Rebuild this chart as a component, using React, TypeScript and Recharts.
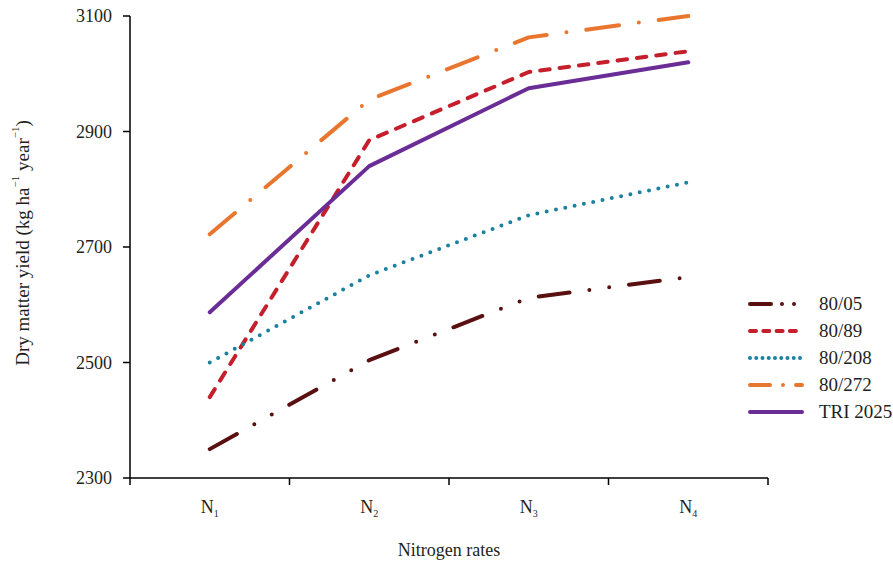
import React from 'react';
import { LineChart, Line, XAxis, YAxis, Legend, Label } from 'recharts';

// Nitrogen rate categories (subscript index of N)
const categories = ['1', '2', '3', '4'];

// Series values (kg ha-1 year-1)
const s8005 = [2350, 2504, 2612, 2648];
const s8089 = [2440, 2885, 3003, 3039];
const s80208 = [2500, 2651, 2755, 2812];
const s80272 = [2722, 2955, 3063, 3100];
const sTRI2025 = [2587, 2840, 2975, 3020];

// Axis ticks
const yTicks = [2300, 2500, 2700, 2900, 3100];

const FONT = "'Liberation Serif', serif";
const TEXT = '#231f20';

const series = [
  { key: '80/05', values: s8005, color: '#5a1010', dash: '31 20 0 20 0 20', legendDash: '21 11 0 12 0 100' },
  { key: '80/89', values: s8089, color: '#c41f2a', dash: '9.5 10', legendDash: '6 7.3' },
  { key: '80/208', values: s80208, color: '#1a82a0', dash: '0 9.5', legendDash: '0 6.25' },
  { key: '80/272', values: s80272, color: '#e8762e', dash: '33 20 0 20', legendDash: '20 13 0 13 6 100' },
  { key: 'TRI 2025', values: sTRI2025, color: '#6a2c95', dash: undefined as string | undefined, legendDash: undefined as string | undefined },
];

const data = categories.map((c, i) => {
  const row: Record<string, number | string> = { x: i + 0.5, cat: c };
  series.forEach((s) => {
    row[s.key] = s.values[i];
  });
  return row;
});

// tick positions: category boundaries (integers) and centres (halves)
const xTicks: number[] = [];
for (let i = 0; i <= categories.length * 2; i++) xTicks.push(i / 2);

const XTick = (props: any) => {
  const { x, y, payload } = props;
  const v = payload.value as number;
  if (Number.isInteger(v)) {
    return <line x1={x} x2={x} y1={y - 7} y2={y} stroke="#000" strokeWidth={1.5} />;
  }
  const idx = Math.floor(v);
  return (
    <text x={x} y={y + 28} textAnchor="middle" style={{ fontFamily: FONT }} fontSize={18} fill={TEXT}>
      N<tspan fontSize={10} dy={4}>{categories[idx]}</tspan>
    </text>
  );
};

const YLabel = (props: any) => {
  const vb = props.viewBox || {};
  const cx = 22;
  const cy = (vb.y ?? 16) + (vb.height ?? 462) / 2 - 4;
  return (
    <text
      x={cx}
      y={cy}
      transform={`rotate(-90 ${cx} ${cy})`}
      textAnchor="middle"
      dominantBaseline="central"
      style={{ fontFamily: FONT }}
      fontSize={19}
      fill={TEXT}
    >
      Dry matter yield (kg ha
      <tspan fontSize={11} dy={-7}>−1</tspan>
      <tspan dy={7}> year</tspan>
      <tspan fontSize={11} dy={-7}>−1</tspan>
      <tspan dy={7}>)</tspan>
    </text>
  );
};

const LegendContent = () => (
  <div style={{ fontFamily: FONT, fontSize: 19, color: TEXT }}>
    {series.map((s) => (
      <div key={s.key} style={{ display: 'flex', alignItems: 'center', height: 27 }}>
        <svg width={62} height={12} style={{ display: 'block' }}>
          <line
            x1={6}
            x2={58}
            y1={6}
            y2={6}
            stroke={s.color}
            strokeWidth={4}
            strokeLinecap="round"
            strokeDasharray={s.legendDash}
          />
        </svg>
        <span style={{ marginLeft: 13, lineHeight: '27px', whiteSpace: 'nowrap' }}>{s.key}</span>
      </div>
    ))}
  </div>
);

export default function App() {
  return (
    <div style={{ position: 'absolute', left: 0, top: 0, width: 893, height: 564, background: '#fff' }}>
      <LineChart
        width={893}
        height={564}
        data={data}
        margin={{ top: 16, right: 125, bottom: 0, left: 0 }}
      >
        <XAxis
          dataKey="x"
          type="number"
          domain={[0, categories.length]}
          ticks={xTicks}
          interval={0}
          tickLine={false}
          tickSize={7}
          tickMargin={0}
          tick={<XTick />}
          axisLine={{ stroke: '#000', strokeWidth: 1.5 }}
          height={86}
        >
          <Label
            value="Nitrogen rates"
            position="insideBottom"
            offset={8}
            style={{ fontFamily: FONT, fontSize: 18, fill: TEXT }}
          />
        </XAxis>
        <YAxis
          type="number"
          domain={[2300, 3100]}
          ticks={yTicks}
          interval={0}
          width={130}
          tickSize={7}
          tickMargin={11}
          tickLine={{ stroke: '#000', strokeWidth: 1.5 }}
          axisLine={{ stroke: '#000', strokeWidth: 1.5 }}
          tick={{ style: { fontFamily: FONT }, fontSize: 18, fill: TEXT }}
        >
          <Label content={<YLabel />} />
        </YAxis>
        <Legend
          layout="horizontal"
          verticalAlign="middle"
          align="center"
          content={<LegendContent />}
          wrapperStyle={{ position: 'absolute', left: 744, top: 290, width: 149 }}
        />
        {series.map((s) => (
          <Line
            key={s.key}
            dataKey={s.key}
            name={s.key}
            stroke={s.color}
            strokeWidth={4}
            strokeLinecap="round"
            strokeLinejoin="round"
            strokeDasharray={s.dash}
            dot={false}
            activeDot={false}
            isAnimationActive={false}
          />
        ))}
      </LineChart>
    </div>
  );
}
